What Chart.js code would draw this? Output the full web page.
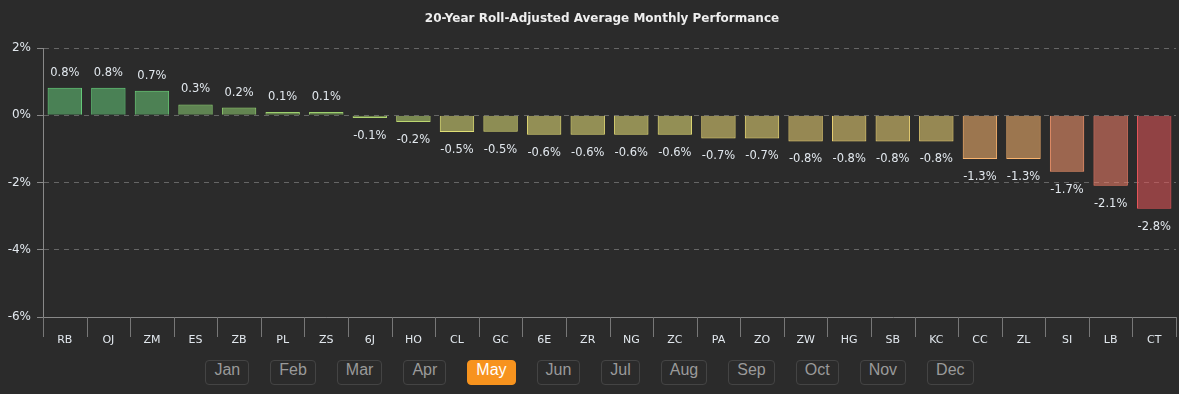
<!DOCTYPE html>
<html>
<head>
<meta charset="utf-8">
<script src="https://cdn.jsdelivr.net/npm/chart.js@4"></script>
<style>
  html, body { margin: 0; padding: 0; background: #2b2b2b; }
  #wrap { position: relative; width: 1179px; height: 345px; }
  #title {
    position: absolute; top: 10px; left: 602px; transform: translateX(-50%); white-space: nowrap;
    color: #eeeeee; font: bold 12px "DejaVu Sans", sans-serif; line-height: 16px;
  }
  #months { position: absolute; top: 360px; left: 0; width: 1179px; text-align: center; font-size: 0; }
  .m {
    display: inline-block; box-sizing: border-box; height: 25px; line-height: 23px;
    margin: 0 10.5px; padding: 0 8px; border: 1px solid #444; border-radius: 4px;
    color: #9a9a9a; font: 16px "Liberation Sans Narrow", "Liberation Sans", sans-serif;
  }
  .m.on { background: #f7931e; border-color: #f7931e; color: #fff; }
</style>
</head>
<body>
<div id="wrap"><canvas id="c" width="1179" height="345"></canvas>
<div id="title">20-Year Roll-Adjusted Average Monthly Performance</div></div>
<div id="months"></div>
<script>
var symbols = ['RB','OJ','ZM','ES','ZB','PL','ZS','6J','HO','CL','GC','6E','ZR','NG','ZC','PA','ZO','ZW','HG','SB','KC','CC','ZL','SI','LB','CT'];
var avgReturn = [0.82,0.82,0.73,0.32,0.23,0.1,0.1,-0.08,-0.2,-0.5,-0.49,-0.58,-0.58,-0.58,-0.58,-0.69,-0.69,-0.78,-0.78,-0.78,-0.78,-1.3,-1.3,-1.68,-2.1,-2.78];
var yTicks = [2, 0, -2, -4, -6];
var months = ['Jan','Feb','Mar','Apr','May','Jun','Jul','Aug','Sep','Oct','Nov','Dec'];
var activeMonth = 'May';

// colour scale green -> yellow -> orange -> red by value
var stops = [
  [0.8, [100,200,120]],
  [0, [165,210,110]],
  [-0.6, [235,225,120]],
  [-1.3, [250,180,110]],
  [-1.7, [250,150,110]],
  [-2.8, [230,85,90]]
];
function colorFor(v, a) {
  var c = stops[stops.length - 1][1];
  if (v >= stops[0][0]) c = stops[0][1];
  for (var i = 0; i < stops.length - 1; i++) {
    var s0 = stops[i], s1 = stops[i + 1];
    if (v <= s0[0] && v >= s1[0]) {
      var t = (s0[0] - v) / (s0[0] - s1[0]);
      c = s0[1].map(function (x, k) { return Math.round(x + (s1[1][k] - x) * t); });
    }
  }
  return 'rgba(' + c[0] + ',' + c[1] + ',' + c[2] + ',' + a + ')';
}

var valueLabels = {
  id: 'valueLabels',
  afterDatasetsDraw: function (chart) {
    var ctx = chart.ctx;
    var meta = chart.getDatasetMeta(0);
    ctx.save();
    ctx.font = '11.5px "DejaVu Sans", sans-serif';
    ctx.fillStyle = '#e2e8ee';
    ctx.textAlign = 'center';
    ctx.textBaseline = 'middle';
    meta.data.forEach(function (bar, i) {
      var v = avgReturn[i];
      var y = v >= 0 ? bar.y - 15 : bar.y + 18;
      ctx.fillText(v.toFixed(1) + '%', bar.x, y);
    });
    ctx.restore();
  }
};

// separators between the x labels, below the axis
var xSeparators = {
  id: 'xSeparators',
  afterDraw: function (chart) {
    var xs = chart.scales.x, ctx = chart.ctx;
    var step = xs.width / symbols.length;
    ctx.save();
    ctx.strokeStyle = '#777';
    ctx.lineWidth = 1;
    ctx.beginPath();
    for (var i = 0; i <= symbols.length; i++) {
      var x = Math.round(xs.left + i * step) + 0.5;
      ctx.moveTo(x, xs.top);
      ctx.lineTo(x, xs.top + 20);
    }
    ctx.stroke();
    ctx.restore();
  }
};

new Chart(document.getElementById('c'), {
  type: 'bar',
  data: {
    labels: symbols,
    datasets: [{
      data: avgReturn,
      backgroundColor: avgReturn.map(function (v) { return colorFor(v, 0.55); }),
      borderColor: avgReturn.map(function (v) { return colorFor(v, 1); }),
      borderWidth: 1,
      barPercentage: 0.79,
      categoryPercentage: 1
    }]
  },
  options: {
    responsive: false,
    animation: false,
    layout: { padding: { top: 48, right: 3, left: 0, bottom: 0 } },
    plugins: {
      legend: { display: false },
      tooltip: { enabled: false }
    },
    scales: {
      x: {
        afterFit: function (s) { s.height = 28; },
        grid: { display: false },
        border: { color: '#888' },
        ticks: { color: '#e2e8ee', padding: 9, font: { family: '"DejaVu Sans", sans-serif', size: 11 }, autoSkip: false, maxRotation: 0 }
      },
      y: {
        min: -6, max: 2,
        afterBuildTicks: function (s) { s.ticks = yTicks.map(function (v) { return { value: v }; }); },
        afterFit: function (s) { s.width = 43; },
        grid: { color: '#666', tickLength: 6, tickColor: '#888' },
        border: { color: '#888', dash: [5, 5] },
        ticks: {
          color: '#e2e8ee', padding: 6,
          font: { family: '"DejaVu Sans", sans-serif', size: 12 },
          callback: function (v) { return v + '%'; }
        }
      }
    }
  },
  plugins: [valueLabels, xSeparators]
});

var box = document.getElementById('months');
months.forEach(function (m) {
  var d = document.createElement('span');
  d.className = 'm' + (m === activeMonth ? ' on' : '');
  d.textContent = m;
  box.appendChild(d);
});
</script>
</body>
</html>
